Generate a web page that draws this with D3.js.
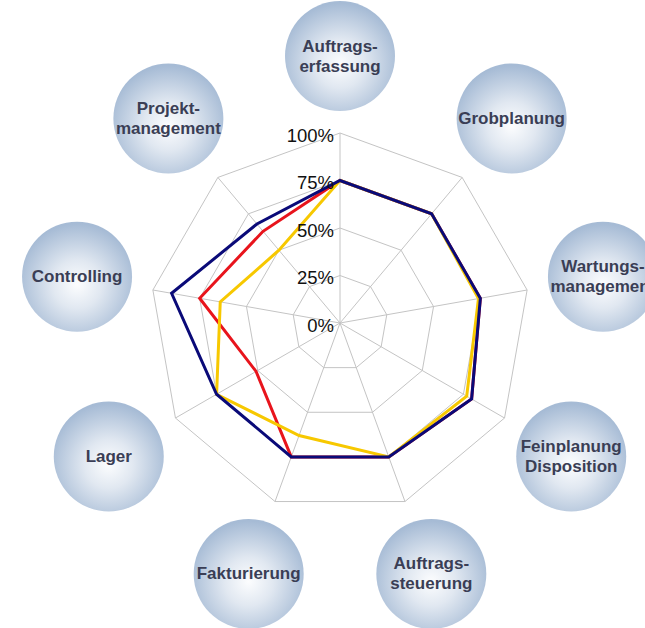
<!DOCTYPE html>
<html lang="de">
<head>
<meta charset="UTF-8">
<title>Radar</title>
<script src="https://cdn.jsdelivr.net/npm/d3@7"></script>
<style>
  body { margin: 0; background: #fff; }
  svg { display: block; font-family: "Liberation Sans", Arial, sans-serif; }
</style>
</head>
<body>
<div id="chart"></div>
<script>
// axes, clockwise from top
const categories = [
  ["Auftrags-", "erfassung"],
  ["Grobplanung"],
  ["Wartungs-", "management"],
  ["Feinplanung", "Disposition"],
  ["Auftrags-", "steuerung"],
  ["Fakturierung"],
  ["Lager"],
  ["Controlling"],
  ["Projekt-", "management"]
];
const tickValues = [0, 25, 50, 75, 100];
const tickLabels = ["0%", "25%", "50%", "75%", "100%"];

// values in %
const seriesYellow = [75, 75, 74, 77, 75, 63, 75, 64, 50];
const seriesRed    = [75, 75, 75, 80, 75, 75, 51, 75, 63];
const seriesBlue   = [75, 75, 75, 80, 75, 75, 75, 90, 68];

const W = 645, H = 628;
const cx = 340, cy = 323;
const R = 190;

const svg = d3.select("#chart").append("svg")
  .attr("width", W).attr("height", H);

const defs = svg.append("defs");
const grad = defs.append("radialGradient")
  .attr("id", "bubble")
  .attr("cx", "50%").attr("cy", "57%").attr("r", "55%");
grad.append("stop").attr("offset", "0%").attr("stop-color", "#fcfdfe");
grad.append("stop").attr("offset", "40%").attr("stop-color", "#e1e8f1");
grad.append("stop").attr("offset", "100%").attr("stop-color", "#a6bbd5");

const r = d3.scaleLinear().domain([0, 100]).range([0, R]);
const angle = d3.scaleLinear().domain([0, categories.length]).range([0, 2 * Math.PI]);

const g = svg.append("g").attr("transform", `translate(${cx},${cy})`);

// grid rings
const ring = d3.lineRadial()
  .angle((d, i) => angle(i))
  .radius(d => r(d))
  .curve(d3.curveLinearClosed);

g.selectAll("path.ring")
  .data(tickValues.filter(v => v > 0))
  .join("path")
  .attr("class", "ring")
  .attr("d", v => ring(categories.map(() => v)))
  .attr("fill", "none")
  .attr("stroke", "#c4c4c4")
  .attr("stroke-width", 1);

// spokes
g.selectAll("line.spoke")
  .data(categories)
  .join("line")
  .attr("class", "spoke")
  .attr("x1", 0).attr("y1", 0)
  .attr("x2", (d, i) => r(100) * Math.sin(angle(i)))
  .attr("y2", (d, i) => -r(100) * Math.cos(angle(i)))
  .attr("stroke", "#c4c4c4")
  .attr("stroke-width", 1);

// data lines
const line = d3.lineRadial()
  .angle((d, i) => angle(i))
  .radius(d => r(d))
  .curve(d3.curveLinearClosed);

const series = [
  { values: seriesRed, color: "#e8141c" },
  { values: seriesYellow, color: "#f7c800" },
  { values: seriesBlue, color: "#0a0a78" }
];

g.selectAll("path.series")
  .data(series)
  .join("path")
  .attr("class", "series")
  .attr("d", d => line(d.values))
  .attr("fill", "none")
  .attr("stroke", d => d.color)
  .attr("stroke-width", 3)
  .attr("stroke-linejoin", "miter");

// tick labels along top spoke
g.selectAll("text.tick")
  .data(tickValues)
  .join("text")
  .attr("class", "tick")
  .attr("x", -6)
  .attr("y", d => -r(d) + 2)
  .attr("text-anchor", "end")
  .attr("dominant-baseline", "central")
  .attr("font-size", 18.5)
  .attr("fill", "#111")
  .text((d, i) => tickLabels[i]);

// category bubbles
const bubbleDist = 267;
const bubbles = g.selectAll("g.bubble")
  .data(categories)
  .join("g")
  .attr("class", "bubble")
  .attr("transform", (d, i) =>
    `translate(${bubbleDist * Math.sin(angle(i))},${-bubbleDist * Math.cos(angle(i))})`);

bubbles.append("circle")
  .attr("r", 55)
  .attr("fill", "url(#bubble)");

bubbles.each(function (lines) {
  const t = d3.select(this).append("text")
    .attr("text-anchor", "middle")
    .attr("font-size", 17)
    .attr("font-weight", "bold")
    .attr("fill", "#3a3e55");
  lines.forEach((s, k) => {
    t.append("tspan")
      .attr("x", 0)
      .attr("y", (k - (lines.length - 1) / 2) * 20)
      .attr("dominant-baseline", "central")
      .text(s);
  });
});
</script>
</body>
</html>
